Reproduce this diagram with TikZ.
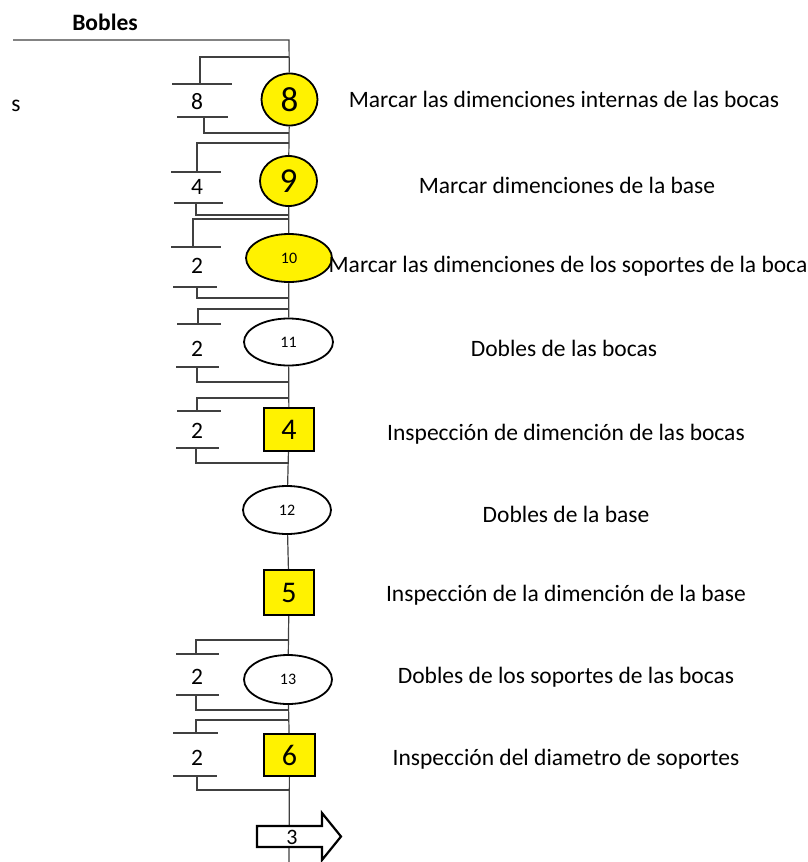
\documentclass[tikz,border=0pt]{standalone}
\usepackage{fontspec}
\setmainfont{Carlito}
\usetikzlibrary{shapes.geometric,backgrounds}

\tikzset{
  flow/.style={line width=1.2pt,draw=black!75},
  oper/.style={ellipse,draw,line width=1.8pt,inner sep=0pt},
  insp/.style={rectangle,draw,line width=2pt,fill=yellow,inner sep=0pt,
    minimum width=50pt,minimum height=43pt,font=\fontsize{30}{32}\selectfont},
  qty/.style={inner sep=0pt,font=\fontsize{23.5}{28}\selectfont},
  desc/.style={anchor=base,inner sep=0pt,font=\fontsize{23.5}{28}\selectfont},
}

\begin{document}
\begin{tikzpicture}[x=1pt,y=-1pt]
  \useasboundingbox (0,0) rectangle (808,862);
  \node[font=\fontsize{23.5}{28}\selectfont\bfseries] (title) at (105,22) {Bobles};
  \node[qty] (cut) at (16,106) {s};
  \coordinate (start) at (13,40);
  \coordinate (bend) at (289,40);
  \coordinate (bot) at (289,862);

  % operaciones e inspecciones
  \node[oper,fill=yellow,minimum width=56pt,minimum height=52pt,
    font=\fontsize{35}{37}\selectfont] (op8) at (289.5,99.5) {8};
  \node[oper,fill=yellow,minimum width=57pt,minimum height=50pt,
    font=\fontsize{35}{37}\selectfont] (op9) at (288.5,181) {9};
  \node[oper,fill=yellow,minimum width=86pt,minimum height=48pt,
    font=\fontsize{16}{18}\selectfont] (op10) at (289,258) {10};
  \node[oper,fill=white,minimum width=89pt,minimum height=47pt,
    font=\fontsize{16}{18}\selectfont] (op11) at (288.5,342) {11};
  \node[insp] (insp4) at (289,429.5) {4};
  \node[oper,fill=white,minimum width=88pt,minimum height=48pt,
    font=\fontsize{16}{18}\selectfont] (op12) at (287,510) {12};
  \node[insp,minimum height=45pt] (insp5) at (289,592.5) {5};
  \node[oper,fill=white,minimum width=88pt,minimum height=49pt,
    font=\fontsize{16}{18}\selectfont] (op13) at (288,679.5) {13};
  \node[insp,minimum width=51pt,minimum height=42pt] (insp6) at (289.5,755) {6};

  % transporte
  \draw[line width=2.2pt,fill=white] (257,826) -- (322,826) -- (322,813)
    -- (341,836.5) -- (322,860) -- (322,847) -- (257,847) -- cycle;
  \node[qty,font=\fontsize{22}{26}\selectfont] (tr3) at (292,837) {3};

  % linea principal
  \draw[flow] (start) -- (bend) -- (op8) -- (op9) -- (op10) -- (op11)
    -- (insp4) -- (op12) -- (insp5) -- (op13) -- (insp6);
  \begin{scope}[on background layer]
    \draw[flow] (insp6) -- (bot);
  \end{scope}

  % cantidades
  \draw[flow] (289,57) -| (200,84) (172,84) -- (232,84)
    (177,117) -- (228,117) (204,117) |- (289,133);
  \node[qty] (q8) at (197,102) {8};
  \draw[flow] (289,143) -| (197,172) (171,172) -- (221,172)
    (174,203) -- (223,203) (196,203) |- (289,215);
  \node[qty] (q9) at (197,187) {4};
  \draw[flow] (289,219) -| (193,247) (171,247) -- (221,247)
    (173,287) -- (217,287) (197,287) |- (289,298);
  \node[qty] (q10) at (197,266) {2};
  \draw[flow] (289,309) -| (198,324) (177,324) -- (221,324)
    (176,367) -- (219,367) (197,367) |- (289,382);
  \node[qty] (q11) at (197,349) {2};
  \draw[flow] (289,398) -| (197,411) (177,411) -- (221,411)
    (176,448) -- (219,448) (196,448) |- (289,463);
  \node[qty] (q4) at (197,431) {2};
  \draw[flow] (289,640) -| (196,654) (176,654) -- (219,654)
    (176,695) -- (219,695) (196,695) |- (289,710);
  \node[qty] (q13) at (197,677) {2};
  \draw[flow] (289,720) -| (196,733) (173,733) -- (218,733)
    (173,776) -- (217,776) (197,776) |- (289,790);
  \node[qty] (q6) at (197,758) {2};

  % descripciones
  \node[desc] (d8) at (564,107) {Marcar las dimenciones internas de las bocas};
  \node[desc] (d9) at (567,193) {Marcar dimenciones de la base};
  \node[desc] (d10) at (568,272) {Marcar las dimenciones de los soportes de la boca};
  \node[desc] (d11) at (564,356) {Dobles de las bocas};
  \node[desc] (d4) at (566,440) {Inspección de dimención de las bocas};
  \node[desc] (d12) at (566,522) {Dobles de la base};
  \node[desc] (d5) at (566,601) {Inspección de la dimención de la base};
  \node[desc] (d13) at (566,683) {Dobles de los soportes de las bocas};
  \node[desc] (d6) at (566,765) {Inspección del diametro de soportes};
\end{tikzpicture}
\end{document}
